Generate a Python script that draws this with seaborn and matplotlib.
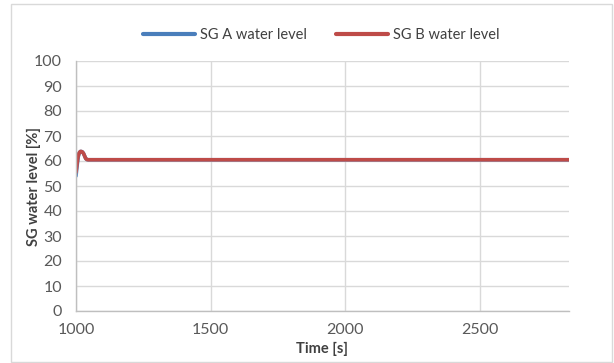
import matplotlib
matplotlib.use("Agg")
import matplotlib.pyplot as plt
import seaborn as sns
import pandas as pd
from matplotlib.patches import Rectangle

time_s = [1000, 1004, 1008, 1012, 1016, 1020, 1024, 1028, 1032, 1036, 1040, 1045, 1050, 1060, 1100, 1500, 2000, 2500, 2830]
sg_a_level = [54.0, 58.0, 61.5, 63.2, 63.8, 63.8, 63.6, 63.0, 62.0, 61.0, 60.6, 60.5, 60.5, 60.5, 60.5, 60.5, 60.5, 60.5, 60.5]
sg_b_level = [55.5, 59.0, 62.0, 63.3, 63.8, 63.8, 63.6, 63.0, 62.0, 61.0, 60.6, 60.5, 60.5, 60.5, 60.5, 60.5, 60.5, 60.5, 60.5]
series_names = ["SG A water level", "SG B water level"]
y_ticks = list(range(0, 101, 10))
x_ticks = [1000, 1500, 2000, 2500]

df = pd.concat([
    pd.DataFrame({"Time": time_s, "Level": sg_a_level, "Series": series_names[0]}),
    pd.DataFrame({"Time": time_s, "Level": sg_b_level, "Series": series_names[1]}),
])

sns.set_theme(style="white")
plt.rcParams["font.family"] = ["Lato", "DejaVu Sans"]

fig = plt.figure(figsize=(6.14, 3.63), dpi=100)
ax = fig.add_axes([76/614, 1 - 311/363, (569-76)/614, (311-61)/363])

palette = {series_names[0]: "#4a7ebb", series_names[1]: "#be4b48"}
sns.lineplot(data=df, x="Time", y="Level", hue="Series", palette=palette,
             linewidth=2.6, ax=ax, legend=True)

ax.set_xlim(1000, 2830)
ax.set_ylim(0, 100)
ax.set_xticks(x_ticks)
ax.set_yticks(y_ticks)
ax.grid(axis="both", color="#d9d9d9", linewidth=1)
ax.set_axisbelow(True)
for s in ["top", "right"]:
    ax.spines[s].set_visible(False)
for s in ["left", "bottom"]:
    ax.spines[s].set_color("#bfbfbf")
    ax.spines[s].set_linewidth(1)
ax.tick_params(axis="both", colors="#595959", labelsize=11.5, length=0)
ax.tick_params(axis="x", pad=9)
ax.tick_params(axis="y", pad=10)
ax.set_xlabel("Time [s]", fontsize=10.5, fontweight="bold", color="#404040", labelpad=3)
ax.set_ylabel("SG water level [%]", fontsize=10.5, fontweight="bold", color="#404040", labelpad=-5)

handles, labels = ax.get_legend_handles_labels()
leg = ax.legend(handles, labels, loc="center", bbox_to_anchor=(321/614, 1 - 35/363),
                bbox_transform=fig.transFigure, ncol=2, frameon=False,
                fontsize=10.5, handlelength=3.6, columnspacing=2.0, handletextpad=0.3)
for t in leg.get_texts():
    t.set_color("#404040")
for l in leg.get_lines():
    l.set_linewidth(3)

fig.patches.append(Rectangle((11/614, 1/363), 601/614, 358/363, transform=fig.transFigure,
                             fill=False, edgecolor="#d9d9d9", linewidth=1))

fig.savefig("out.png", dpi=100)
